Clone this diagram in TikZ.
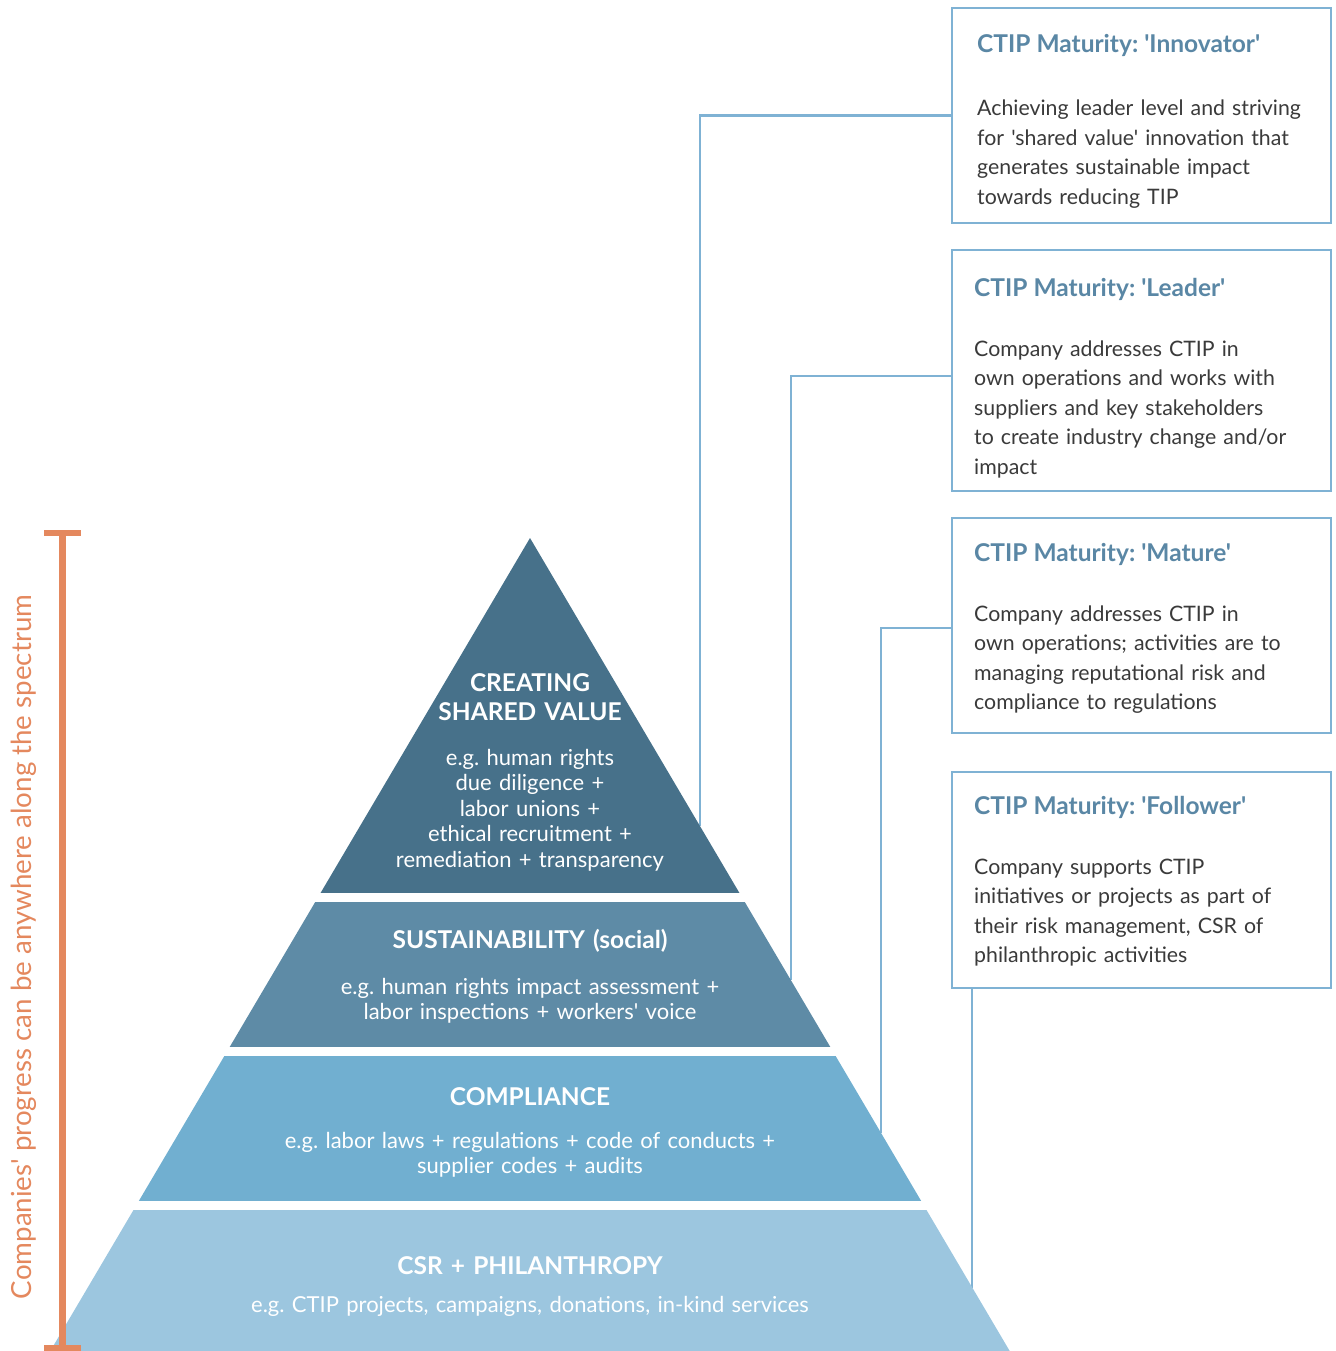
\documentclass[tikz,border=0pt]{standalone}
\usepackage{fontspec}
\setmainfont{Lato}[Ligatures=TeXOff]
\frenchspacing
\definecolor{bandA}{HTML}{47718A}
\definecolor{bandB}{HTML}{5E8BA6}
\definecolor{bandC}{HTML}{71AFD0}
\definecolor{bandD}{HTML}{9CC6DF}
\definecolor{lineC}{HTML}{7FB2D4}
\definecolor{titleC}{HTML}{5A87A5}
\definecolor{bodyC}{HTML}{3A3A3A}
\definecolor{orangeC}{HTML}{E4885E}
\begin{document}
\begin{tikzpicture}[x=1pt,y=-1pt,
  boxstyle/.style={draw=lineC, line width=2.5pt, fill=white, minimum width=379pt, anchor=north west, inner sep=0pt, outer sep=0pt},
  conn/.style={draw=lineC, line width=2.5pt},
  ttl/.style={anchor=base west, inner sep=0pt, text=titleC, font=\fontsize{24.5}{28}\selectfont\bfseries},
  bodytxt/.style={anchor=base west, inner sep=0pt, text=bodyC, text width=350pt, align=left, font=\fontsize{21.3}{29.5}\selectfont},
  ptitle/.style={anchor=base, inner sep=0pt, text=white, text width=600pt, align=center, font=\fontsize{24.5}{29}\selectfont\bfseries},
  pbody/.style={anchor=base, inner sep=0pt, text=white, text width=700pt, align=center, font=\fontsize{22}{25.5}\selectfont},
]
\useasboundingbox (0,0) rectangle (1335,1351);

% boxes
\node[boxstyle, minimum height=215pt] (b1) at (952,8) {};
\node[boxstyle, minimum height=241pt] (b2) at (952,250) {};
\node[boxstyle, minimum height=215pt] (b3) at (952,518) {};
\node[boxstyle, minimum height=216pt] (b4) at (952,772) {};

\node[ttl] (t1) at (977,53) {CTIP Maturity: 'Innovator'};
\node[bodytxt] (d1) at (977,116) {Achieving leader level and striving\\for 'shared value' innovation that\\generates sustainable impact\\towards reducing TIP};

\node[ttl] (t2) at (974,296) {CTIP Maturity: 'Leader'};
\node[bodytxt] (d2) at (974,356) {Company addresses CTIP in\\own operations and works with\\suppliers and key stakeholders\\to create industry change and/or\\impact};

\node[ttl] (t3) at (974,561) {CTIP Maturity: 'Mature'};
\node[bodytxt] (d3) at (974,621) {Company addresses CTIP in\\own operations; activities are to\\managing reputational risk and\\compliance to regulations};

\node[ttl] (t4) at (974,814) {CTIP Maturity: 'Follower'};
\node[bodytxt] (d4) at (974,874) {Company supports CTIP\\initiatives or projects as part of\\their risk management, CSR of\\philanthropic activities};

% connector end points on pyramid edge
\coordinate (e1) at (700,826);
\coordinate (e2) at (791,980);
\coordinate (e3) at (881,1133);
\coordinate (e4) at (972,1288);

\draw[conn] (b1.west) -| (e1);
\draw[conn] ([yshift=-5.5pt]b2.west) -| (e2);
\draw[conn] ([yshift=-2.5pt]b3.west) -| (e3);
\draw[conn] ([xshift=20pt]b4.south west) -- (e4);

% pyramid
\begin{scope}
\clip (530,538) -- (1009.7,1351) -- (50.3,1351) -- cycle;
\fill[bandA] (0,530) rectangle (1335,893);
\fill[bandB] (0,902) rectangle (1335,1047);
\fill[bandC] (0,1056) rectangle (1335,1201);
\fill[bandD] (0,1210) rectangle (1335,1360);
\end{scope}

\node[ptitle] (p1) at (530,691) {CREATING\\SHARED VALUE};
\node[pbody] (q1) at (530,765) {e.g. human rights\\due diligence +\\labor unions +\\ethical recruitment +\\remediation + transparency};
\node[ptitle] (p2) at (530,948) {SUSTAINABILITY (social)};
\node[pbody] (q2) at (530,994) {e.g. human rights impact assessment +\\labor inspections + workers' voice};
\node[ptitle] (p3) at (530,1105) {COMPLIANCE};
\node[pbody] (q3) at (530,1148) {e.g. labor laws + regulations + code of conducts +\\supplier codes + audits};
\node[ptitle] (p4) at (530,1274) {CSR + PHILANTHROPY};
\node[pbody] (q4) at (530,1312) {e.g. CTIP projects, campaigns, donations, in-kind services};

% orange spectrum bar
\draw[orangeC, line width=7pt] (62,533) -- (62,1348);
\draw[orangeC, line width=6pt] (44,533) -- (81,533);
\draw[orangeC, line width=6pt] (44,1348) -- (81,1348);
\node[rotate=90, anchor=base, inner sep=0pt, text=orangeC, font=\fontsize{27.7}{30}\selectfont] (sp) at (31,947) {Companies' progress can be anywhere along the spectrum};
\end{tikzpicture}
\end{document}
